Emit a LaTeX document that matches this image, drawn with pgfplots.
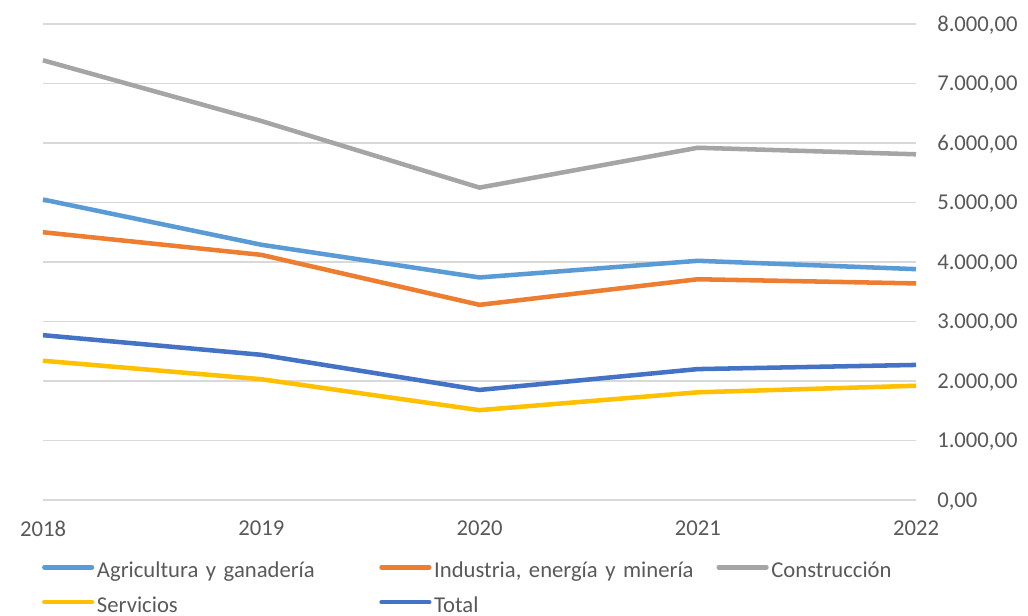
\documentclass[border=0pt]{standalone}
\usepackage{pgfplots}
\pgfplotsset{compat=1.18}
\usepackage{fontspec}
\setmainfont{Carlito}
\definecolor{agri}{HTML}{5B9BD5}
\definecolor{indu}{HTML}{ED7D31}
\definecolor{cons}{HTML}{A5A5A5}
\definecolor{serv}{HTML}{FFC000}
\definecolor{tot}{HTML}{4472C4}
\definecolor{gridc}{HTML}{D9D9D9}
\definecolor{txt}{HTML}{595959}
\begin{document}
\begin{tikzpicture}
\useasboundingbox (0pt,0pt) rectangle (771pt,462pt);
\begin{axis}[
  at={(32.25pt,87pt)}, anchor=south west,
  scale only axis, width=654.75pt, height=357pt,
  xmin=2018, xmax=2022, ymin=0, ymax=8000,
  xtick={2018,2019,2020,2021,2022},
  xticklabels={2018,2019,2020,2021,2022},
  ytick={0,1000,2000,3000,4000,5000,6000,7000,8000},
  yticklabel pos=right,
  ymajorgrids, grid style={draw=gridc, line width=1.1pt},
  axis line style={draw=none},
  major tick length=0pt,
  tick label style={font=\fontsize{17}{20}\selectfont, text=txt},
  yticklabel style={anchor=base west, inner sep=0pt, xshift=15.75pt, yshift=-5.4pt,
    /pgf/number format/fixed, /pgf/number format/fixed zerofill,
    /pgf/number format/precision=2, /pgf/number format/1000 sep={.},
    /pgf/number format/dec sep={,}, /pgf/number format/assume math mode=true},
  scaled y ticks=false,
  xticklabel style={anchor=north, inner sep=0pt, yshift=-15.75pt},
  clip=false,
  legend columns=3,
  legend cell align=left,
  legend style={at={(axis description cs:-0.001,-0.1155)}, anchor=north west,
    draw=none, fill=none, inner sep=0pt, outer sep=0pt,
    font=\fontsize{17}{20}\selectfont, text=txt,
    column sep=0pt, row sep=0pt,
    nodes={inner xsep=2pt, inner ysep=5.1pt, text height=12pt, text depth=4pt},
    /tikz/every even column/.append style={text width=209.75pt, align=left}},
  legend image code/.code={\draw[#1, line cap=round] (0pt,3.9pt) -- (35.75pt,3.9pt); \path (0pt,0pt) (35.75pt,0pt);},
  every axis plot/.append style={line width=3.4pt, line join=round, mark=none},
]
\addplot[agri] coordinates {(2018,5050) (2019,4290) (2020,3740) (2021,4020) (2022,3880)};
\addlegendentry{Agricultura y ganadería}
\addplot[indu] coordinates {(2018,4500) (2019,4120) (2020,3280) (2021,3710) (2022,3640)};
\addlegendentry{Industria, energía y minería}
\addplot[cons] coordinates {(2018,7390) (2019,6370) (2020,5250) (2021,5920) (2022,5810)};
\addlegendentry{Construcción}
\addplot[serv] coordinates {(2018,2340) (2019,2030) (2020,1510) (2021,1810) (2022,1920)};
\addlegendentry{Servicios}
\addplot[tot] coordinates {(2018,2770) (2019,2440) (2020,1850) (2021,2200) (2022,2270)};
\addlegendentry{Total}
\end{axis}
\end{tikzpicture}
\end{document}
